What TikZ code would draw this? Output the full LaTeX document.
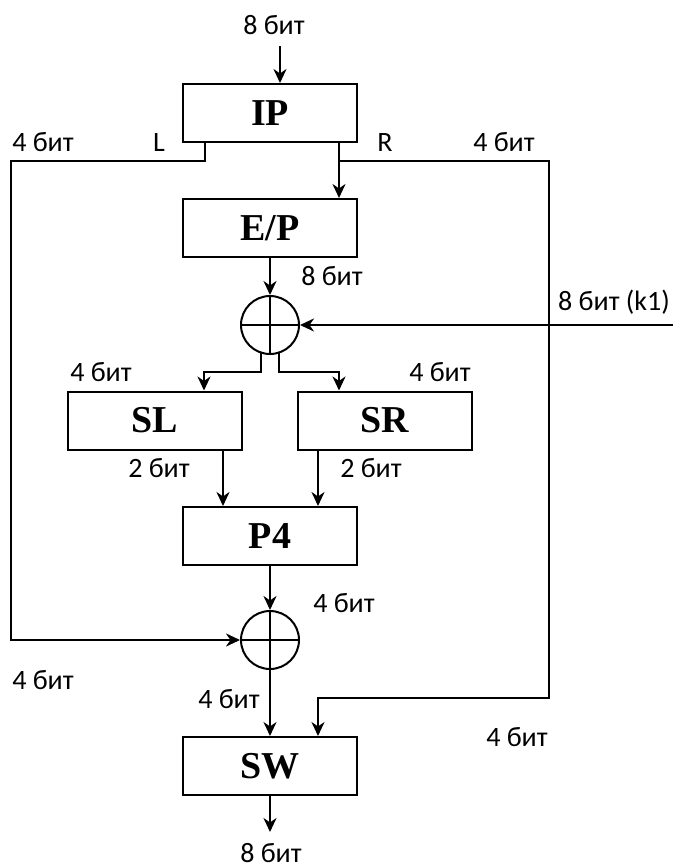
\documentclass[tikz,border=0pt]{standalone}
\usepackage{fontspec}
\setmainfont{Carlito}
\newfontfamily\boxfont{Liberation Serif}
\usetikzlibrary{arrows.meta}
\begin{document}
\begin{tikzpicture}[x=1pt,y=-1pt,
  lab/.style={font=\fontsize{28}{28}\selectfont, inner sep=0, anchor=base},
  blk/.style={draw, line width=2pt, minimum width=174pt, minimum height=58pt, inner sep=0, font=\boxfont\bfseries\fontsize{38}{38}\selectfont},
  xo/.style={draw, circle, line width=2pt, minimum size=58pt, inner sep=0},
  con/.style={line width=2.4pt},
  arr/.style={con, -{Stealth[length=14pt,width=13pt,inset=4.5pt]}}]
\useasboundingbox (0,0) rectangle (673,868);

% blocks
\node[blk] (ip) at (270,113) {IP};
\node[blk] (ep) at (270,228) {E/P};
\node[blk] (sl) at (155,420.5) {SL};
\node[blk] (sr) at (384.5,420.5) {SR};
\node[blk] (p4) at (270,536) {P4};
\node[blk] (sw) at (270,766) {SW};

% xors
\node[xo] (x1) at (270,325) {};
\node[xo] (x2) at (270,640) {};
\draw[line width=2pt] (x1.north) -- (x1.south) (x1.west) -- (x1.east);
\draw[line width=2pt] (x2.north) -- (x2.south) (x2.west) -- (x2.east);

% labels
\node[lab] (tin) at (274,34) {8 бит};
\node[lab] (tl4) at (43,151) {4 бит};
\node[lab] (tL) at (159,151) {L};
\node[lab] (tR) at (385,151) {R};
\node[lab] (tr4) at (504,151) {4 бит};
\node[lab] (tep) at (332,285) {8 бит};
\node[lab] (tk1) at (614,310) {8 бит (k1)};
\node[lab] (tsl4) at (101,381) {4 бит};
\node[lab] (tsr4) at (440,381) {4 бит};
\node[lab] (tsl2) at (159,477) {2 бит};
\node[lab] (tsr2) at (371,477) {2 бит};
\node[lab] (tp4) at (344,612) {4 бит};
\node[lab] (tlb) at (43,689) {4 бит};
\node[lab] (tx2) at (229,708) {4 бит};
\node[lab] (trb) at (517,746) {4 бит};
\node[lab, text depth=0pt] (tout) at (271,862) {8 бит};

% coordinates
\coordinate (cin) at (280,46);
\coordinate (ck1) at (673,325);
\coordinate (cout) at (270,832);

% connectors
\draw[arr] (cin) -- (cin |- ip.north);
\draw[arr] (ip.south -| 339,0) -- (ep.north -| 339,0);
\draw[arr] (ip.south -| 205,0) -- (205,161) -- (11,161) -- (11,640) -- (x2.west);
\draw[arr] (339,161) -- (549,161) -- (549,698) -- (318,698) -- (sw.north -| 318,0);
\draw[arr] (ep.south) -- (x1.north);
\draw[arr] (ck1) -- (x1.east);
\draw[arr] (261,352.6) -- (261,372) -- (204,372) -- (sl.north -| 204,0);
\draw[arr] (279,352.6) -- (279,372) -- (339,372) -- (sr.north -| 339,0);
\draw[arr] (sl.south -| 223,0) -- (p4.north -| 223,0);
\draw[arr] (sr.south -| 318,0) -- (p4.north -| 318,0);
\draw[arr] (p4.south) -- (x2.north);
\draw[arr] (x2.south) -- (sw.north);
\draw[arr] (sw.south) -- (cout);
\end{tikzpicture}
\end{document}
